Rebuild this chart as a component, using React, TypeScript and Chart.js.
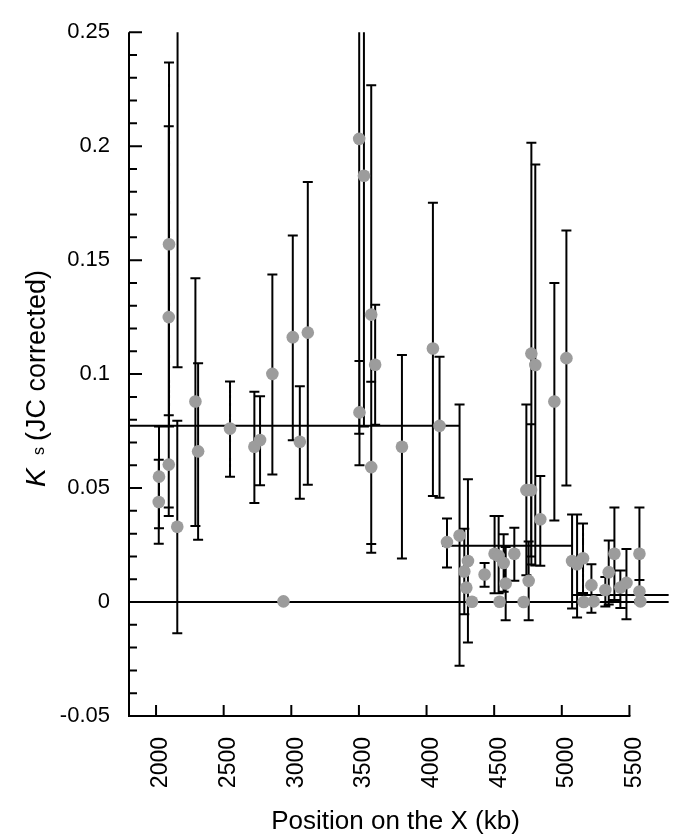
import React, { useEffect, useRef } from 'react';
import { Chart, registerables } from 'chart.js';

Chart.register(...registerables);

// ---- data (kb positions, Ks values and error-bar ends) ----
const positionKb = [
  2022, 2020, 2096, 2094, 2094, 2157, 2159, 2291, 2311, 2547,
  2727, 2769, 2860, 2942, 3011, 3063, 3122, 3502, 3537, 3504,
  3591, 3620, 3591, 3818, 4047, 4096, 4151, 4244, 4306, 4279,
  4294, 4336, 4429, 4503, 4533, 4570, 4585, 4540, 4649, 4718,
  4755, 4738, 4773, 4775, 4804, 4841, 4945, 5034, 5076, 5113,
  5157, 5162, 5219, 5236, 5322, 5347, 5389, 5433, 5478, 5574,
  5574, 5581,
];
const ksValue = [
  0.055, 0.0439, 0.157, 0.125, 0.0603, 0.033, 0.29, 0.088, 0.0661, 0.0761,
  0.0681, 0.0711, 0.1001, 0.0003, 0.1162, 0.0703, 0.1182, 0.2032, 0.187, 0.0832,
  0.1261, 0.1041, 0.0592, 0.0681, 0.1112, 0.0773, 0.0263, 0.0292, 0.018, 0.0134,
  0.0063, 0.0001, 0.0121, 0.0212, 0.0202, 0.0171, 0.0081, 0.0001, 0.0212, 0.0,
  0.0093, 0.0491, 0.0491, 0.109, 0.104, 0.0363, 0.088, 0.107, 0.018, 0.0166,
  0.0192, 0.0, 0.0074, 0.0003, 0.0053, 0.0131, 0.0212, 0.0064, 0.0084, 0.0212,
  0.0046, 0.0003,
];
const ksLow = [
  0.0324, 0.0256, 0.077, 0.0415, 0.0377, -0.0137, 0.103, 0.0334, 0.0273, 0.055,
  0.0435, 0.0512, 0.0559, 0.0003, 0.071, 0.0453, 0.0515, 0.0738, 0.077, 0.06,
  0.0255, 0.0778, 0.0216, 0.0191, 0.0465, 0.0458, 0.0152, -0.0279, -0.0178, -0.0054,
  0.0063, 0.0001, 0.0067, 0.0038, 0.0038, 0.0045, -0.008, 0.0001, 0.0093, 0.0,
  -0.008, 0.0117, 0.02, 0.0165, 0.016, 0.0159, 0.0358, 0.0511, -0.0028, -0.0068,
  0.004, 0.0, -0.0047, 0.0003, -0.002, -0.0011, 0.0009, -0.0026, -0.0075, 0.0009,
  -0.0005, 0.0003,
];
const ksHigh = [
  0.077, 0.0624, 0.2367, 0.2087, 0.082, 0.0795, 0.477, 0.142, 0.1048, 0.0967,
  0.0923, 0.0903, 0.1437, 0.0003, 0.1608, 0.0947, 0.1843, 0.3326, 0.297, 0.1058,
  0.2267, 0.1304, 0.0966, 0.1084, 0.1752, 0.1076, 0.0366, 0.0867, 0.0539, 0.0322,
  0.0063, 0.0001, 0.0171, 0.0377, 0.0377, 0.0297, 0.0241, 0.0001, 0.0326, 0.0,
  0.0266, 0.0867, 0.078, 0.2015, 0.192, 0.0553, 0.14, 0.163, 0.0384, 0.0384,
  0.0344, 0.0, 0.0166, 0.0003, 0.011, 0.027, 0.0415, 0.0138, 0.0233, 0.0415,
  0.0097, 0.0003,
];

// horizontal mean segments
const meanStartKb = [1800, 4114, 5077];
const meanEndKb = [4240, 5081, 5790];
const meanKs = [0.0773, 0.0247, 0.0031];
const zeroLineKb = [1800, 5790];

// axes
const xTickValues = [2000, 2500, 3000, 3500, 4000, 4500, 5000, 5500];
const yTickValues = [-0.05, 0, 0.05, 0.1, 0.15, 0.2, 0.25];
const yMinorStep = 0.01;
const X_MIN = 1800;
const X_MAX = 5800;
const X_AXIS_END = 5500;
const Y_MIN = -0.05;
const Y_MAX = 0.25;

const FONT = '"Liberation Sans", Arial, Helvetica, sans-serif';

const errorBarPlugin = {
  id: 'errorBars',
  beforeDatasetsDraw(chart: any) {
    const { ctx, chartArea, scales } = chart;
    const x = scales.x;
    const y = scales.y;
    ctx.save();
    ctx.beginPath();
    ctx.rect(chartArea.left, chartArea.top, chartArea.right - chartArea.left, chartArea.bottom - chartArea.top);
    ctx.clip();
    ctx.strokeStyle = '#000';
    ctx.lineWidth = 2;
    ctx.beginPath();
    positionKb.forEach((kb, i) => {
      if (ksHigh[i] - ksLow[i] < 1e-6) return;
      const px = x.getPixelForValue(kb);
      const top = y.getPixelForValue(ksHigh[i]);
      const bot = y.getPixelForValue(ksLow[i]);
      ctx.moveTo(px, top);
      ctx.lineTo(px, bot);
      ctx.moveTo(px - 5, top);
      ctx.lineTo(px + 5, top);
      ctx.moveTo(px - 5, bot);
      ctx.lineTo(px + 5, bot);
    });
    ctx.stroke();
    ctx.restore();
  },
};

const axesPlugin = {
  id: 'inwardAxes',
  afterDraw(chart: any) {
    const { ctx, chartArea, scales } = chart;
    const x = scales.x;
    const y = scales.y;
    const left = chartArea.left;
    const top = chartArea.top;
    const bottom = chartArea.bottom;
    ctx.save();
    ctx.strokeStyle = '#000';
    ctx.lineWidth = 2;
    ctx.lineCap = 'butt';
    const xEnd = x.getPixelForValue(X_AXIS_END);
    ctx.beginPath();
    ctx.moveTo(left, top);
    ctx.lineTo(left, bottom);
    ctx.lineTo(xEnd + 1, bottom);
    ctx.stroke();

    ctx.beginPath();
    const nMinor = Math.round((Y_MAX - Y_MIN) / yMinorStep);
    for (let k = 0; k <= nMinor; k++) {
      const v = Y_MIN + k * yMinorStep;
      const major = yTickValues.some((t) => Math.abs(t - v) < 1e-9);
      const py = y.getPixelForValue(v);
      ctx.moveTo(left, py);
      ctx.lineTo(left + (major ? 13 : 8), py);
    }
    xTickValues.forEach((v) => {
      const px = x.getPixelForValue(v);
      ctx.moveTo(px, bottom);
      ctx.lineTo(px, bottom - 11);
    });
    ctx.stroke();

    // y-axis title: K (italic) with subscript s, then (JC corrected)
    ctx.fillStyle = '#000';
    const cy = (top + bottom) / 2;
    ctx.save();
    ctx.translate(45, cy);
    ctx.rotate(-Math.PI / 2);
    ctx.textAlign = 'left';
    ctx.textBaseline = 'alphabetic';
    ctx.font = `italic 28px ${FONT}`;
    ctx.fillText('K', -113, 0);
    ctx.font = `16px ${FONT}`;
    ctx.fillText('s', -81, -1);
    ctx.font = `27px ${FONT}`;
    ctx.fillText('(JC corrected)', -67, 0);
    ctx.restore();

    // x-axis title
    ctx.font = `26px ${FONT}`;
    ctx.textAlign = 'center';
    ctx.textBaseline = 'alphabetic';
    ctx.fillText('Position on the X (kb)', (chartArea.left + chartArea.right) / 2 - 4, 829);
    ctx.restore();
  },
};

export default function App() {
  const canvasRef = useRef<HTMLCanvasElement | null>(null);

  useEffect(() => {
    document.body.style.margin = '0';
    const canvas = canvasRef.current;
    if (!canvas) return;

    const points = positionKb.map((kb, i) => ({ x: kb, y: ksValue[i] }));
    const meanDatasets = meanKs.map((v, i) => ({
      data: [
        { x: meanStartKb[i], y: v },
        { x: meanEndKb[i], y: v },
      ],
      showLine: true,
      borderColor: '#000',
      borderWidth: 2,
      pointRadius: 0,
      order: 2,
    }));

    const chart = new Chart(canvas, {
      type: 'scatter',
      data: {
        datasets: [
          {
            data: points,
            backgroundColor: '#9c9c9c',
            borderWidth: 0,
            pointRadius: 6.3,
            order: 0,
          },
          ...meanDatasets,
          {
            data: [
              { x: zeroLineKb[0], y: 0 },
              { x: zeroLineKb[1], y: 0 },
            ],
            showLine: true,
            borderColor: '#000',
            borderWidth: 2,
            pointRadius: 0,
            order: 2,
          },
        ] as any,
      },
      options: {
        animation: false,
        responsive: false,
        devicePixelRatio: 1,
        events: [],
        layout: { padding: { left: 0, right: 10, top: 13, bottom: 0 } },
        plugins: { legend: { display: false }, tooltip: { enabled: false } },
        scales: {
          x: {
            type: 'linear',
            min: X_MIN,
            max: X_MAX,
            border: { display: false },
            grid: { display: false, drawTicks: false },
            afterBuildTicks: (scale: any) => {
              scale.ticks = xTickValues.map((v) => ({ value: v }));
            },
            afterFit: (scale: any) => {
              scale.height = 122;
            },
            ticks: {
              autoSkip: false,
              minRotation: 90,
              maxRotation: 90,
              padding: 21,
              labelOffset: 5,
              color: '#000',
              font: { family: FONT, size: 23 },
              callback: (v: any) => String(v),
            },
          },
          y: {
            type: 'linear',
            min: Y_MIN,
            max: Y_MAX,
            border: { display: false },
            grid: { display: false, drawTicks: false },
            afterBuildTicks: (scale: any) => {
              scale.ticks = yTickValues.map((v) => ({ value: v }));
            },
            afterFit: (scale: any) => {
              scale.width = 129;
            },
            ticks: {
              padding: 19,
              color: '#000',
              font: { family: FONT, size: 22 },
              callback: (v: any) => String(Number(Number(v).toFixed(2))),
            },
          },
        },
      } as any,
      plugins: [errorBarPlugin, axesPlugin],
    });

    return () => chart.destroy();
  }, []);

  return (
    <div style={{ width: 680, height: 838 }}>
      <canvas ref={canvasRef} width={680} height={838} style={{ display: 'block' }} />
    </div>
  );
}
